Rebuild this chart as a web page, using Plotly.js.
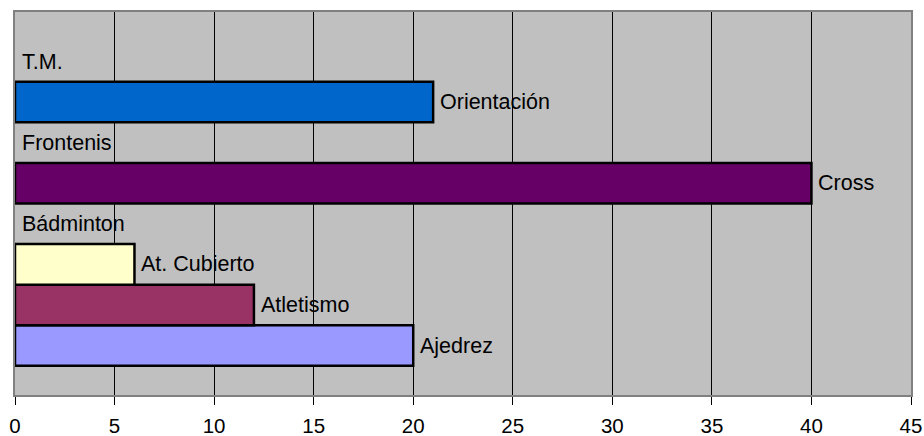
<!DOCTYPE html>
<html>
<head>
<meta charset="utf-8">
<script src="https://cdn.plot.ly/plotly-3.0.1.min.js"></script>
<style>html,body{margin:0;padding:0;background:#fff;}#chart{width:924px;height:436px;}</style>
</head>
<body>
<div id="chart"></div>
<script>
const categories = ["Ajedrez", "Atletismo", "At. Cubierto", "Bádminton", "Cross", "Frontenis", "Orientación", "T.M."];
const values = [20, 12, 6, 0, 40, 0, 21, 0];
const barColors = ["#9999FF", "#993366", "#FFFFCC", "#CCFFFF", "#660066", "#FF8080", "#0066CC", "#CCCCFF"];
const xTicks = [0, 5, 10, 15, 20, 25, 30, 35, 40, 45];

const font = "Arial, 'Liberation Sans', sans-serif";

const trace = {
  type: "bar",
  orientation: "h",
  x: values,
  y: categories,
  marker: {
    color: barColors,
    line: { color: "#000000", width: values.map(v => (v > 0 ? 2.5 : 0)) }
  },
  hoverinfo: "none"
};

const annotations = categories.map((c, i) => ({
  x: values[i], y: c, xref: "x", yref: "y",
  text: c, showarrow: false, xanchor: "left", yanchor: "middle",
  xshift: 5,
  font: { family: font, size: 21.5, color: "#000000" }
}));

const layout = {
  width: 924, height: 436,
  margin: { l: 15, r: 13, t: 12, b: 41, pad: 0 },
  paper_bgcolor: "#ffffff",
  plot_bgcolor: "#C0C0C0",
  showlegend: false,
  bargap: 0,
  font: { family: font, size: 20, color: "#000000" },
  xaxis: {
    range: [0, 45], tickvals: xTicks, ticktext: xTicks.map(String),
    showgrid: true, gridcolor: "#000000", gridwidth: 1,
    zeroline: false,
    ticks: "outside", ticklen: 8, tickcolor: "#000000", tickwidth: 1,
    ticklabelstandoff: 3,
    showline: true, linecolor: "#808080", linewidth: 2, mirror: true,
    tickfont: { family: font, size: 20.5, color: "#000000" },
    fixedrange: true
  },
  yaxis: {
    type: "category", categoryorder: "array", categoryarray: categories,
    range: [-1.22, 8.22],
    showticklabels: false, ticks: "", showgrid: false, zeroline: false,
    showline: true, linecolor: "#808080", linewidth: 2, mirror: true,
    fixedrange: true
  },
  annotations: annotations
};

Plotly.newPlot("chart", [trace], layout, { staticPlot: true, displayModeBar: false });
</script>
</body>
</html>
